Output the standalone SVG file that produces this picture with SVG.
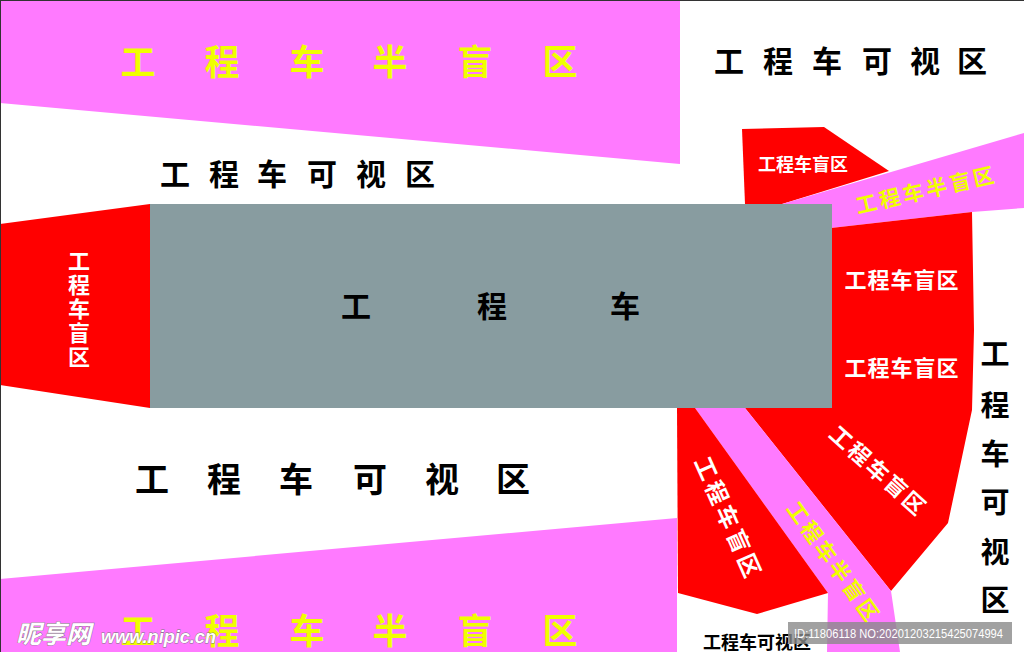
<svg xmlns="http://www.w3.org/2000/svg" width="1024" height="652" viewBox="0 0 1024 652">
<style>
.pink{fill:#ff7aff}
.red{fill:#ff0000}
.gray{fill:#889ca0}
.t{font-family:"Noto Sans CJK SC","Noto Sans CJK TC",sans-serif;font-weight:700;dominant-baseline:central;text-anchor:middle}
.yel{fill:#f0ff00}
.blk{fill:#000}
.wht{fill:#fff}
.wm{font-family:"Liberation Sans","Noto Sans CJK SC",sans-serif;font-style:italic;font-weight:700;fill:#fff;stroke:#777;stroke-width:0.8;paint-order:stroke}
</style>
<rect x="0" y="0" width="1024" height="652" fill="#fff"/>

<g id="top-half-blind">
<polygon class="pink" points="0,0 680,0 680,164 0,103"/>
<text class="t yel" font-size="35" x="138 222 307 390 475 560" y="59">工程车半盲区</text>
</g>

<g id="top-right-visible">
<text class="t blk" font-size="30" x="729 778 827 877 925 972" y="59">工程车可视区</text>
</g>

<g id="top-visible">
<text class="t blk" font-size="30" x="175 224 272 322 371 420" y="172">工程车可视区</text>
</g>

<g id="left-blind">
<polygon class="red" points="0,224 150,204 150,408 0,385"/>
<text class="t wht" font-size="22" x="79 79 79 79 79" y="259 283 307 331 355">工程车盲区</text>
</g>

<g id="right-top-blind">
<polygon class="red" points="742,129 824,127 889,171 782,204 745,204"/>
<text class="t wht" font-size="18" x="803" y="163">工程车盲区</text>
</g>

<g id="right-half-blind">
<polygon class="pink" points="782,204 1024,133 1024,208 972,212 831,228 831,204"/>
<text class="t yel" font-size="21" letter-spacing="3" transform="rotate(-13 925 189)" x="926" y="189">工程车半盲区</text>
</g>

<g id="right-blind">
<polygon class="red" points="831,228 972,212 974,330 972,410 948,523 891,591 745,408 831,408"/>
<text class="t wht" font-size="22" letter-spacing="1" x="902" y="278">工程车盲区</text>
<text class="t wht" font-size="22" letter-spacing="1" x="902" y="366">工程车盲区</text>
<text class="t wht" font-size="22" letter-spacing="2.5" transform="rotate(42 879 469)" x="880" y="469">工程车盲区</text>
</g>

<g id="diag-half-blind">
<polygon class="pink" points="695,408 745,408 891,591 900,652 827,652 828,593"/>
<text class="t yel" font-size="21" letter-spacing="3" transform="rotate(54.5 834 561)" x="835" y="561">工程车半盲区</text>
</g>

<g id="lower-left-blind">
<polygon class="red" points="677,408 695,408 828,593 757,614 678,593"/>
<text class="t wht" font-size="23" letter-spacing="3.5" transform="rotate(66 729 516)" x="731" y="516">工程车盲区</text>
</g>

<g id="truck">
<rect class="gray" x="150" y="204" width="682" height="204"/>
<text class="t blk" font-size="30" x="356 492 625" y="304">工程车</text>
</g>

<g id="bottom-visible">
<text class="t blk" font-size="34" x="152 224 296 370 442 513" y="477">工程车可视区</text>
</g>

<g id="bottom-half-blind">
<polygon class="pink" points="0,579 677,518 677,652 0,652"/>
<text class="t yel" font-size="35" x="138 222 307 390 475 560" y="628">工程车半盲区</text>
</g>

<g id="right-visible">
<text class="t blk" font-size="29" x="995 995 995 995 995 995" y="352 403 452 500 550 598">工程车可视区</text>
</g>

<g id="bottom-right-visible">
<text class="t blk" font-size="18" x="757" y="641">工程车可视区</text>
</g>

<g id="connectors"></g>

<g id="watermark">
<text class="wm" font-size="25" x="16" y="643" font-family="Noto Sans CJK SC,sans-serif">昵享网</text>
<text class="wm" font-size="19" x="101" y="643" textLength="115" lengthAdjust="spacingAndGlyphs">www.nipic.cn</text>
<rect x="788" y="622" width="224" height="22" fill="#8a8a8a" fill-opacity="0.8"/>
<text x="794" y="638" font-family="Liberation Sans,sans-serif" font-size="12" fill="#fff" textLength="209" lengthAdjust="spacingAndGlyphs">ID:11806118 NO:20201203215425074994</text>
</g>

<line x1="0.5" y1="0" x2="0.5" y2="652" stroke="#333" stroke-width="1"/>
<line x1="0" y1="0.5" x2="1024" y2="0.5" stroke="#333" stroke-width="1"/>
</svg>
